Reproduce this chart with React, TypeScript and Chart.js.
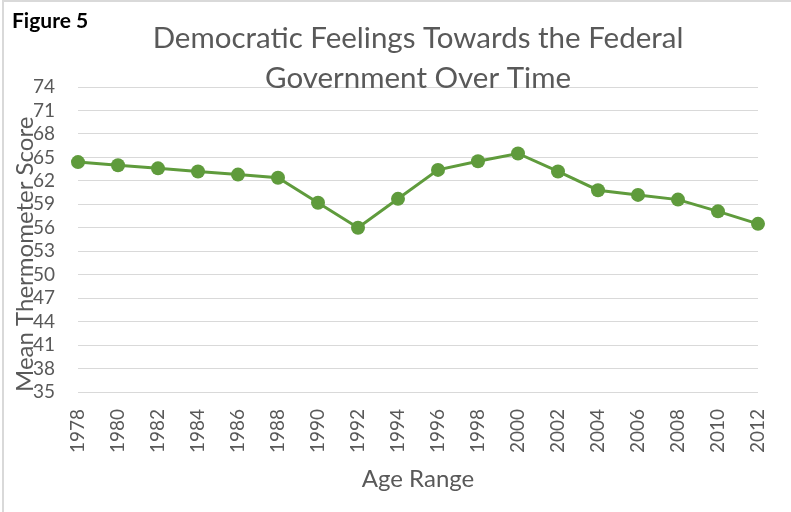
import React, { useEffect, useRef } from "react";
import { Chart, registerables } from "chart.js";

Chart.register(...registerables);

const years = ["1978", "1980", "1982", "1984", "1986", "1988", "1990", "1992", "1994", "1996", "1998", "2000", "2002", "2004", "2006", "2008", "2010", "2012"];
const meanScores = [64.4, 64.0, 63.6, 63.2, 62.8, 62.4, 59.2, 56.0, 59.7, 63.4, 64.5, 65.5, 63.2, 60.8, 60.2, 59.6, 58.1, 56.5];
const yTicks = [35, 38, 41, 44, 47, 50, 53, 56, 59, 62, 65, 68, 71, 74];
const titleLines = ["Democratic Feelings Towards the Federal", "Government Over Time"];
const figureLabel = "Figure 5";
const yTitle = "Mean Thermometer Score";
const xTitle = "Age Range";

const FONT = "Lato, 'Open Sans', sans-serif";
const GREY = "#595959";
const GREEN = "#5f9b3c";

export default function App() {
  const canvasRef = useRef<HTMLCanvasElement | null>(null);

  useEffect(() => {
    const canvas = canvasRef.current;
    if (!canvas) return;
    const chart = new Chart(canvas, {
      type: "line",
      data: {
        labels: years,
        datasets: [
          {
            label: "Mean Thermometer Score",
            data: meanScores,
            borderColor: GREEN,
            backgroundColor: GREEN,
            borderWidth: 3,
            pointRadius: 7,
            pointHoverRadius: 7,
            pointBackgroundColor: GREEN,
            pointBorderColor: GREEN,
            pointBorderWidth: 0,
            tension: 0,
            clip: false,
          },
        ],
      },
      options: {
        animation: false,
        responsive: false,
        devicePixelRatio: 1,
        layout: { padding: { left: 0, right: 33, top: 0, bottom: 0 } },
        plugins: {
          legend: { display: false },
          tooltip: { enabled: false },
          title: {
            display: true,
            fullSize: false,
            text: titleLines,
            color: GREY,
            font: { family: FONT, size: 29.5, weight: "normal", lineHeight: "40px" },
            padding: { top: 18, bottom: -11 },
          },
        },
        scales: {
          x: {
            type: "category",
            offset: false,
            grid: { display: false, drawTicks: false },
            border: { display: false },
            ticks: {
              autoSkip: false,
              minRotation: 90,
              maxRotation: 90,
              padding: 17,
              color: GREY,
              font: { family: FONT, size: 19 },
            },
            title: {
              display: true,
              text: xTitle,
              color: GREY,
              font: { family: FONT, size: 24 },
              padding: { top: 0, bottom: 18 },
            },
            afterFit: (scale: any) => {
              scale.height = 120;
              scale.paddingLeft = 0;
              scale.paddingRight = 0;
            },
          },
          y: {
            type: "linear",
            min: 35,
            max: 74,
            grid: { color: "#d9d9d9", lineWidth: 1, drawTicks: false },
            border: { display: false },
            afterBuildTicks: (scale: any) => {
              scale.ticks = yTicks.map((v) => ({ value: v }));
            },
            ticks: {
              autoSkip: false,
              padding: 23,
              color: GREY,
              font: { family: FONT, size: 19 },
            },
            title: {
              display: true,
              align: "start",
              text: yTitle,
              color: GREY,
              font: { family: FONT, size: 24 },
              padding: { top: 11, bottom: 0 },
            },
            afterFit: (scale: any) => {
              scale.width = 78;
            },
          },
        },
      },
    });
    return () => chart.destroy();
  }, []);

  return (
    <div style={{ position: "fixed", left: 0, top: 0, width: 791, height: 512, background: "#fff", overflow: "hidden" }}>
      <div style={{ position: "absolute", left: 2, top: 0, width: 789, height: 512, borderLeft: "2px solid #d9d9d9", borderTop: "2px solid #d9d9d9", boxSizing: "border-box" }} />
      <canvas ref={canvasRef} width={791} height={512} style={{ position: "absolute", left: 0, top: 0 }} />
      <div style={{ position: "absolute", left: 12, top: 8, fontFamily: FONT, fontWeight: "bold", fontSize: 21, color: "#000", lineHeight: "24px" }}>
        {figureLabel}
      </div>
    </div>
  );
}
